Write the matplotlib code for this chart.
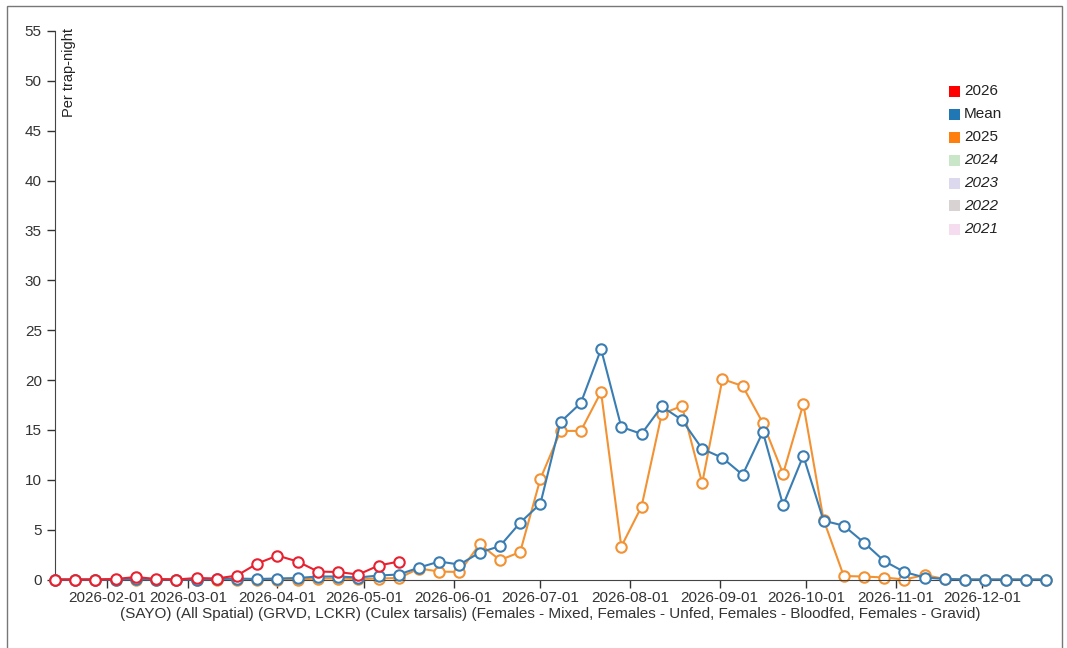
import matplotlib
matplotlib.use('Agg')
import matplotlib.pyplot as plt
import matplotlib.dates as mdates
from matplotlib.patches import Rectangle
import numpy as np
import pandas as pd

plt.rcParams['font.family'] = ['Liberation Sans', 'DejaVu Sans']

# weekly collection dates
dates = pd.date_range('2026-01-14', periods=50, freq='7D')

y2026 = [0, 0, 0, 0.05, 0.25, 0.05, 0, 0.15, 0.1, 0.4,
         1.6, 2.4, 1.8, 0.8, 0.75, 0.5, 1.4, 1.8]

y_mean = [0, 0, 0, 0, 0.05, 0, 0, 0, 0.05,
          0.1, 0.05, 0.1, 0.15, 0.3, 0.3, 0.2, 0.4, 0.5,
          1.2, 1.8, 1.5, 2.7, 3.35, 5.7, 7.6,
          15.8, 17.7, 23.1, 15.3, 14.6, 17.35, 16.0, 13.1, 12.2, 10.5, 14.8, 7.45,
          12.4, 5.9, 5.4, 3.7, 1.85, 0.75, 0.2, 0.05, 0, 0, 0, 0, 0]

y2025 = [0, 0, 0, 0, 0, 0, 0, 0, 0, 0, 0, 0, 0,
         0.1, 0.1, 0.05, 0.1, 0.15,
         1.1, 0.8, 0.75, 3.55, 1.95, 2.75, 10.1,
         14.9, 14.9, 18.8, 3.3, 7.3, 16.6, 17.4, 9.65, 20.1, 19.4, 15.7, 10.6,
         17.6, 6.0, 0.35, 0.3, 0.2, 0, 0.45, 0.05, 0, 0, 0, 0, 0]

legend_labels = ['2026', 'Mean', '2025', '2024', '2023', '2022', '2021']
legend_colors = ['#ff0000', '#1f77b4', '#ff7f0e', '#c9e6c9', '#dcd9ee', '#d8d2d2', '#f6dcef']
legend_italic = [False, False, False, True, True, True, True]

W, H = 1067, 648
fig = plt.figure(figsize=(W / 100, H / 100), dpi=100)
ax = fig.add_axes([55 / W, 1 - 579.5 / H, (1046 - 55) / W, (579.5 - 31) / H])

mk = dict(marker='o', markersize=7.5, markerfacecolor='white', markeredgewidth=1.5, clip_on=False)
ax.plot(dates, y2025, color='#f39233', lw=1.5, markeredgecolor='#f39233', zorder=2, **mk)
ax.plot(dates, y_mean, color='#3a7db3', lw=1.5, markeredgecolor='#3a7db3', zorder=3, **mk)
ax.plot(dates[:len(y2026)], y2026, color='#e8202f', lw=1.5, markeredgecolor='#e8202f', zorder=4, **mk)

ax.set_xlim(dates[0], dates[-1])
ax.set_ylim(0, 55)
ax.set_yticks(np.arange(0, 56, 5))
ax.xaxis.set_major_locator(mdates.MonthLocator(bymonthday=1))
ax.xaxis.set_major_formatter(mdates.DateFormatter('%Y-%m-%d'))

for s in ['top', 'right']:
    ax.spines[s].set_visible(False)
for s in ['left', 'bottom']:
    ax.spines[s].set_color('#444444')
ax.tick_params(axis='both', labelsize=11, colors='#333333', length=6, width=1)
ax.tick_params(axis='x', pad=2)

ax.set_xlabel('(SAYO) (All Spatial) (GRVD, LCKR) (Culex tarsalis) (Females - Mixed, '
              'Females - Unfed, Females - Bloodfed, Females - Gravid)',
              fontsize=11, color='#333333', labelpad=2)

fig.text(68.5 / W, 1 - 28 / H, 'Per trap-night', rotation=90, ha='center', va='top',
         fontsize=10.5, color='#222222')

# legend
for i, (lab, col, it) in enumerate(zip(legend_labels, legend_colors, legend_italic)):
    yc = 91 + i * 23
    fig.add_artist(Rectangle((949 / W, 1 - (yc + 5.5) / H), 11 / W, 11 / H,
                             transform=fig.transFigure, facecolor=col, edgecolor='none'))
    fig.text(964 / W, 1 - yc / H, lab, ha='left', va='center', fontsize=11,
             color='#222222', style='italic' if it else 'normal')

# outer frame
fig.add_artist(Rectangle((7 / W, -0.02), (1062 - 7) / W, 1 - 6 / H + 0.02,
                         transform=fig.transFigure, fill=False, edgecolor='#777777', lw=1))

fig.savefig('out.png', dpi=100)
